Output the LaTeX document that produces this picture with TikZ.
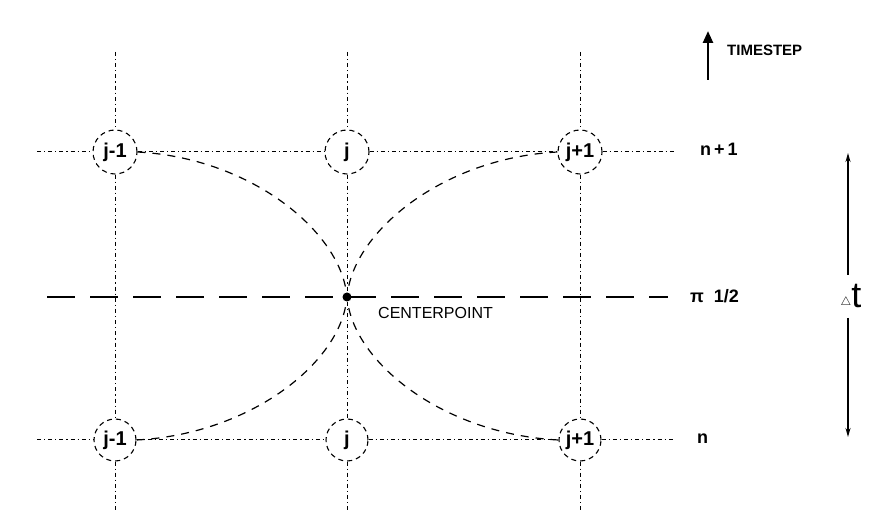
\documentclass[tikz,border=0pt]{standalone}
\usepackage{fontspec}
\setmainfont{Liberation Sans}
\usetikzlibrary{arrows.meta}
\begin{document}
\begin{tikzpicture}[x=1pt,y=-1pt,
  grid/.style={line width=1pt,dash pattern=on 4pt off 3pt on 1.2pt off 3pt},
  ring/.style={circle,draw,line width=1.1pt,dash pattern=on 5pt off 4pt,minimum size=44pt,inner sep=0pt,font=\fontsize{20}{20}\selectfont\bfseries},
  curve/.style={line width=1.2pt,dash pattern=on 8pt off 7pt},
  half/.style={line width=1.8pt,dash pattern=on 28pt off 15pt},
  lab/.style={font=\fontsize{18}{18}\selectfont\bfseries,inner sep=0pt}
]
\useasboundingbox (0,0) rectangle (871,510);
% nodes
\node[ring] (am) at (115,152) {j-1};
\node[ring] (aj) at (347,152) {j};
\node[ring] (ap) at (580,152) {j+1};
\node[ring,minimum size=42pt] (bm) at (115,440) {j-1};
\node[ring,minimum size=42pt] (bj) at (347,440) {j};
\node[ring,minimum size=42pt] (bp) at (580,440) {j+1};
\node[circle,fill,minimum size=9pt,inner sep=0pt] (c) at (347,297) {};
% free ends
\coordinate (tl) at (37,152);
\coordinate (tr) at (675,152);
\coordinate (bl) at (37,440);
\coordinate (br) at (675,440);
\coordinate (ml) at (47,297);
\coordinate (mr) at (668,297);
\coordinate (v1t) at (115,52);
\coordinate (v2t) at (347,52);
\coordinate (v3t) at (580,52);
\coordinate (v1b) at (115,510);
\coordinate (v2b) at (347,510);
\coordinate (v3b) at (580,510);
% grid lines
\draw[grid] (tl) -- (am) (am) -- (aj) (aj) -- (ap) (ap) -- (tr);
\draw[grid] (bl) -- (bm) (bm) -- (bj) (bj) -- (bp) (bp) -- (br);
\draw[grid] (v1t) -- (am) (am) -- (bm) (bm) -- (v1b);
\draw[grid] (v2t) -- (aj) (aj) -- (c) (c) -- (bj) (bj) -- (v2b);
\draw[grid] (v3t) -- (ap) (ap) -- (bp) (bp) -- (v3b);
% half level
\draw[half] (ml) -- (mr);
% curves
\draw[curve] (am.east) .. controls (250,158) and (338,230) .. (c);
\draw[curve] (ap.west) .. controls (444,158) and (356,230) .. (c);
\draw[curve] (bm.east) .. controls (250,434) and (338,364) .. (c);
\draw[curve] (bp.west) .. controls (444,434) and (356,364) .. (c);
% labels
\node[lab,anchor=west] (n1) at (700,149) {n\,+\,1};
\node[lab,anchor=west] (nh) at (690,296) {π\ \ 1/2};
\node[lab,anchor=west] (n0) at (697,439) {n};
\node[font=\fontsize{16}{16}\selectfont,anchor=west,inner sep=0pt] (cp) at (378,313) {CENTERPOINT};
% delta t
\node[inner sep=2pt] (dt) at (851,296) {\raisebox{2pt}{\fontsize{13}{13}\selectfont$\triangle$}\fontsize{36}{36}\selectfont t};
\coordinate (dtt) at (848,153);
\coordinate (dtb) at (848,437);
\draw[line width=1.3pt,-{Stealth[length=9pt,width=5pt]}] (848,275) -- (dtt);
\draw[line width=1.3pt,-{Stealth[length=9pt,width=5pt]}] (848,318) -- (dtb);
% timestep
\coordinate (ts0) at (708,80);
\coordinate (ts1) at (708,31);
\draw[line width=2.5pt,-{Triangle[length=12pt,width=10pt]}] (ts0) -- (ts1);
\node[font=\fontsize{15}{15}\selectfont\bfseries,anchor=west,inner sep=0pt] (ts) at (727,50) {TIMESTEP};
\end{tikzpicture}
\end{document}
